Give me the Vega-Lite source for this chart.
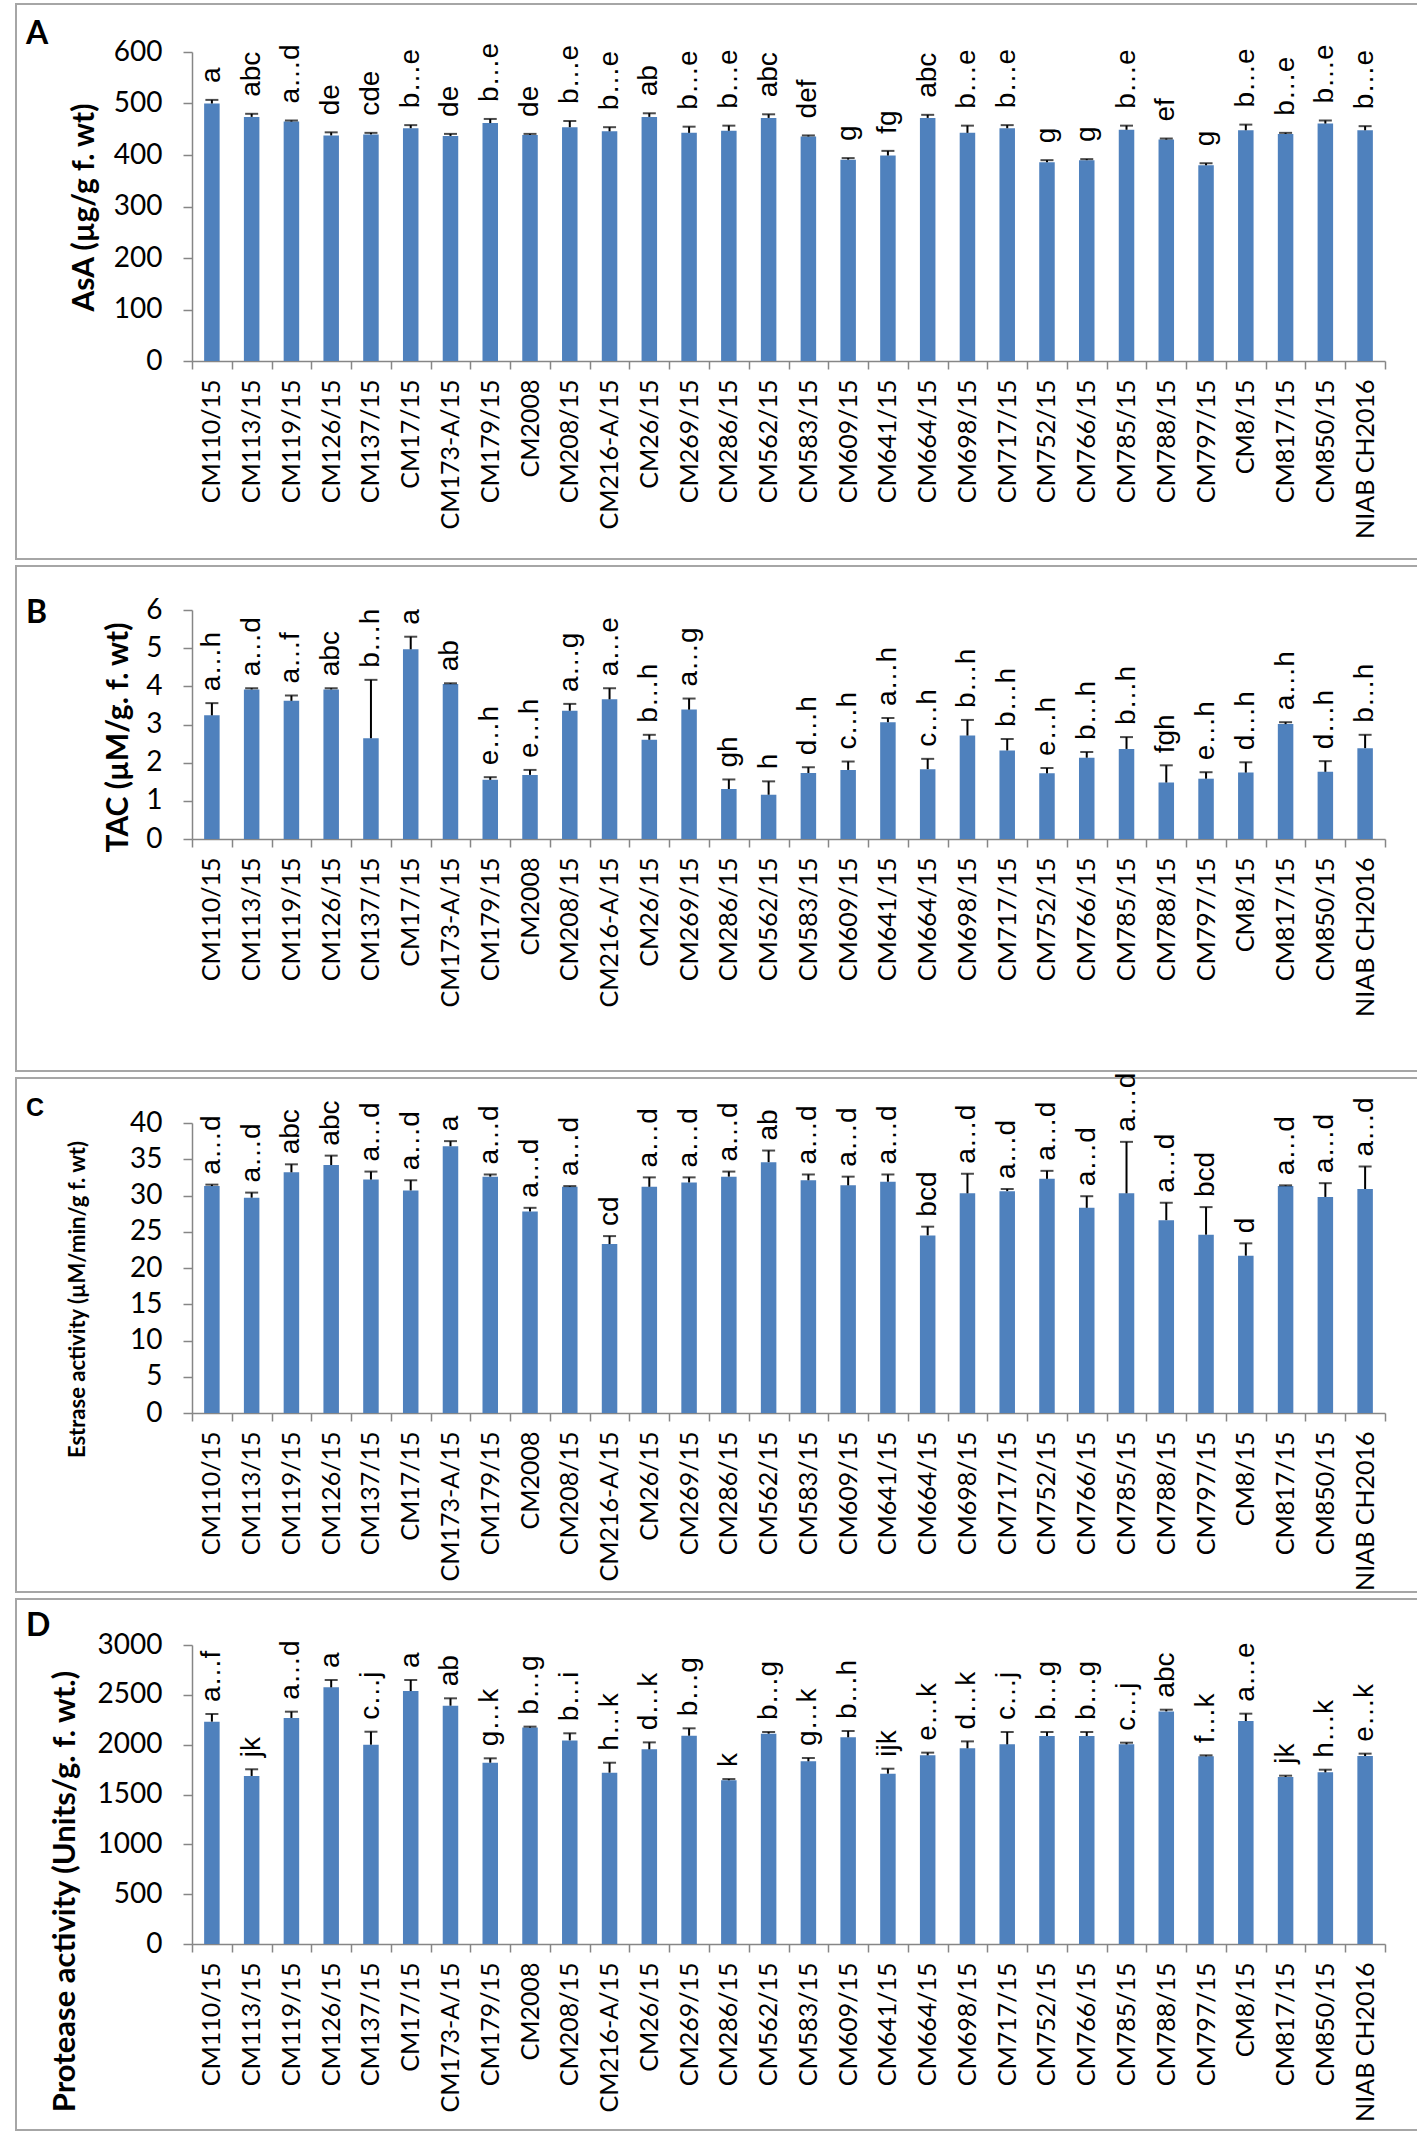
{
  "$schema": "https://vega.github.io/schema/vega-lite/v6.json",
  "background": "white",
  "padding": {"left": 3, "top": 3, "right": 3, "bottom": 3},
  "spacing": 7,
  "bounds": "flush",
  "config": {
    "view": {"stroke": "#a6a6a6", "strokeWidth": 2},
    "font": "Lato",
    "axis": {"grid": false, "labelColor": "black", "titleColor": "black", "tickColor": "#868686", "tickWidth": 1.5, "domainColor": "#868686", "domainWidth": 1.5},
    "title": {"font": "Lato", "fontWeight": "bold", "fontSize": 32, "color": "black", "anchor": "start", "frame": "group"}
  },
  "datasets": {
    "A": [
      {"cat": "CM110/15", "value": 500, "upper": 507, "label": "a"},
      {"cat": "CM113/15", "value": 474, "upper": 480, "label": "abc"},
      {"cat": "CM119/15", "value": 465, "upper": 467, "label": "a…d"},
      {"cat": "CM126/15", "value": 438, "upper": 444, "label": "de"},
      {"cat": "CM137/15", "value": 440, "upper": 443, "label": "cde"},
      {"cat": "CM17/15", "value": 452, "upper": 458, "label": "b…e"},
      {"cat": "CM173-A/15", "value": 437, "upper": 441, "label": "de"},
      {"cat": "CM179/15", "value": 462, "upper": 470, "label": "b…e"},
      {"cat": "CM2008", "value": 439, "upper": 441, "label": "de"},
      {"cat": "CM208/15", "value": 454, "upper": 466, "label": "b…e"},
      {"cat": "CM216-A/15", "value": 446, "upper": 454, "label": "b…e"},
      {"cat": "CM26/15", "value": 474, "upper": 481, "label": "ab"},
      {"cat": "CM269/15", "value": 443, "upper": 455, "label": "b…e"},
      {"cat": "CM286/15", "value": 447, "upper": 457, "label": "b…e"},
      {"cat": "CM562/15", "value": 472, "upper": 479, "label": "abc"},
      {"cat": "CM583/15", "value": 436, "upper": 438, "label": "def"},
      {"cat": "CM609/15", "value": 391, "upper": 394, "label": "g"},
      {"cat": "CM641/15", "value": 399, "upper": 408, "label": "fg"},
      {"cat": "CM664/15", "value": 472, "upper": 478, "label": "abc"},
      {"cat": "CM698/15", "value": 443, "upper": 457, "label": "b…e"},
      {"cat": "CM717/15", "value": 452, "upper": 458, "label": "b…e"},
      {"cat": "CM752/15", "value": 386, "upper": 390, "label": "g"},
      {"cat": "CM766/15", "value": 390, "upper": 392, "label": "g"},
      {"cat": "CM785/15", "value": 449, "upper": 457, "label": "b…e"},
      {"cat": "CM788/15", "value": 430, "upper": 432, "label": "ef"},
      {"cat": "CM797/15", "value": 380, "upper": 384, "label": "g"},
      {"cat": "CM8/15", "value": 448, "upper": 459, "label": "b…e"},
      {"cat": "CM817/15", "value": 441, "upper": 443, "label": "b…e"},
      {"cat": "CM850/15", "value": 461, "upper": 467, "label": "b…e"},
      {"cat": "NIAB CH2016", "value": 448, "upper": 456, "label": "b…e"}
    ],
    "B": [
      {"cat": "CM110/15", "value": 3.24, "upper": 3.56, "label": "a…h"},
      {"cat": "CM113/15", "value": 3.92, "upper": 3.95, "label": "a…d"},
      {"cat": "CM119/15", "value": 3.62, "upper": 3.76, "label": "a…f"},
      {"cat": "CM126/15", "value": 3.92, "upper": 3.95, "label": "abc"},
      {"cat": "CM137/15", "value": 2.64, "upper": 4.17, "label": "b…h"},
      {"cat": "CM17/15", "value": 4.97, "upper": 5.3, "label": "a"},
      {"cat": "CM173-A/15", "value": 4.06, "upper": 4.08, "label": "ab"},
      {"cat": "CM179/15", "value": 1.55, "upper": 1.62, "label": "e…h"},
      {"cat": "CM2008", "value": 1.68, "upper": 1.81, "label": "e…h"},
      {"cat": "CM208/15", "value": 3.36, "upper": 3.54, "label": "a…g"},
      {"cat": "CM216-A/15", "value": 3.66, "upper": 3.95, "label": "a…e"},
      {"cat": "CM26/15", "value": 2.6, "upper": 2.73, "label": "b…h"},
      {"cat": "CM269/15", "value": 3.39, "upper": 3.68, "label": "a…g"},
      {"cat": "CM286/15", "value": 1.31, "upper": 1.56, "label": "gh"},
      {"cat": "CM562/15", "value": 1.16, "upper": 1.51, "label": "h"},
      {"cat": "CM583/15", "value": 1.73, "upper": 1.88, "label": "d…h"},
      {"cat": "CM609/15", "value": 1.81, "upper": 2.03, "label": "c…h"},
      {"cat": "CM641/15", "value": 3.06, "upper": 3.17, "label": "a…h"},
      {"cat": "CM664/15", "value": 1.83, "upper": 2.1, "label": "c…h"},
      {"cat": "CM698/15", "value": 2.71, "upper": 3.12, "label": "b…h"},
      {"cat": "CM717/15", "value": 2.32, "upper": 2.62, "label": "b…h"},
      {"cat": "CM752/15", "value": 1.72, "upper": 1.86, "label": "e…h"},
      {"cat": "CM766/15", "value": 2.13, "upper": 2.28, "label": "b…h"},
      {"cat": "CM785/15", "value": 2.36, "upper": 2.67, "label": "b…h"},
      {"cat": "CM788/15", "value": 1.48, "upper": 1.93, "label": "fgh"},
      {"cat": "CM797/15", "value": 1.58, "upper": 1.75, "label": "e…h"},
      {"cat": "CM8/15", "value": 1.74, "upper": 2.01, "label": "d…h"},
      {"cat": "CM817/15", "value": 3.01, "upper": 3.06, "label": "a…h"},
      {"cat": "CM850/15", "value": 1.76, "upper": 2.04, "label": "d…h"},
      {"cat": "NIAB CH2016", "value": 2.38, "upper": 2.73, "label": "b…h"}
    ],
    "C": [
      {"cat": "CM110/15", "value": 31.3, "upper": 31.5, "label": "a…d"},
      {"cat": "CM113/15", "value": 29.7, "upper": 30.4, "label": "a…d"},
      {"cat": "CM119/15", "value": 33.2, "upper": 34.3, "label": "abc"},
      {"cat": "CM126/15", "value": 34.2, "upper": 35.5, "label": "abc"},
      {"cat": "CM137/15", "value": 32.2, "upper": 33.3, "label": "a…d"},
      {"cat": "CM17/15", "value": 30.7, "upper": 32.1, "label": "a…d"},
      {"cat": "CM173-A/15", "value": 36.8, "upper": 37.5, "label": "a"},
      {"cat": "CM179/15", "value": 32.6, "upper": 32.9, "label": "a…d"},
      {"cat": "CM2008", "value": 27.8, "upper": 28.3, "label": "a…d"},
      {"cat": "CM208/15", "value": 31.2, "upper": 31.3, "label": "a…d"},
      {"cat": "CM216-A/15", "value": 23.3, "upper": 24.4, "label": "cd"},
      {"cat": "CM26/15", "value": 31.2, "upper": 32.5, "label": "a…d"},
      {"cat": "CM269/15", "value": 31.8, "upper": 32.5, "label": "a…d"},
      {"cat": "CM286/15", "value": 32.6, "upper": 33.3, "label": "a…d"},
      {"cat": "CM562/15", "value": 34.6, "upper": 36.2, "label": "ab"},
      {"cat": "CM583/15", "value": 32.1, "upper": 32.9, "label": "a…d"},
      {"cat": "CM609/15", "value": 31.4, "upper": 32.6, "label": "a…d"},
      {"cat": "CM641/15", "value": 31.9, "upper": 32.9, "label": "a…d"},
      {"cat": "CM664/15", "value": 24.5, "upper": 25.7, "label": "bcd"},
      {"cat": "CM698/15", "value": 30.3, "upper": 33.0, "label": "a…d"},
      {"cat": "CM717/15", "value": 30.6, "upper": 30.9, "label": "a…d"},
      {"cat": "CM752/15", "value": 32.3, "upper": 33.4, "label": "a…d"},
      {"cat": "CM766/15", "value": 28.3, "upper": 29.9, "label": "a…d"},
      {"cat": "CM785/15", "value": 30.3, "upper": 37.4, "label": "a…d"},
      {"cat": "CM788/15", "value": 26.6, "upper": 29.0, "label": "a…d"},
      {"cat": "CM797/15", "value": 24.6, "upper": 28.4, "label": "bcd"},
      {"cat": "CM8/15", "value": 21.7, "upper": 23.4, "label": "d"},
      {"cat": "CM817/15", "value": 31.3, "upper": 31.4, "label": "a…d"},
      {"cat": "CM850/15", "value": 29.8, "upper": 31.7, "label": "a…d"},
      {"cat": "NIAB CH2016", "value": 30.9, "upper": 34.0, "label": "a…d"}
    ],
    "D": [
      {"cat": "CM110/15", "value": 2231, "upper": 2308, "label": "a…f"},
      {"cat": "CM113/15", "value": 1686, "upper": 1753, "label": "jk"},
      {"cat": "CM119/15", "value": 2268, "upper": 2331, "label": "a…d"},
      {"cat": "CM126/15", "value": 2575, "upper": 2649, "label": "a"},
      {"cat": "CM137/15", "value": 2000, "upper": 2130, "label": "c…j"},
      {"cat": "CM17/15", "value": 2538, "upper": 2649, "label": "a"},
      {"cat": "CM173-A/15", "value": 2391, "upper": 2465, "label": "ab"},
      {"cat": "CM179/15", "value": 1819, "upper": 1863, "label": "g…k"},
      {"cat": "CM2008", "value": 2171, "upper": 2181, "label": "b…g"},
      {"cat": "CM208/15", "value": 2043, "upper": 2114, "label": "b…i"},
      {"cat": "CM216-A/15", "value": 1719, "upper": 1819, "label": "h…k"},
      {"cat": "CM26/15", "value": 1953, "upper": 2023, "label": "d…k"},
      {"cat": "CM269/15", "value": 2090, "upper": 2164, "label": "b…g"},
      {"cat": "CM286/15", "value": 1643, "upper": 1655, "label": "k"},
      {"cat": "CM562/15", "value": 2110, "upper": 2127, "label": "b…g"},
      {"cat": "CM583/15", "value": 1833, "upper": 1866, "label": "g…k"},
      {"cat": "CM609/15", "value": 2074, "upper": 2137, "label": "b…h"},
      {"cat": "CM641/15", "value": 1709, "upper": 1759, "label": "ijk"},
      {"cat": "CM664/15", "value": 1893, "upper": 1920, "label": "e…k"},
      {"cat": "CM698/15", "value": 1963, "upper": 2033, "label": "d…k"},
      {"cat": "CM717/15", "value": 2003, "upper": 2127, "label": "c…j"},
      {"cat": "CM752/15", "value": 2087, "upper": 2127, "label": "b…g"},
      {"cat": "CM766/15", "value": 2087, "upper": 2127, "label": "b…g"},
      {"cat": "CM785/15", "value": 2003, "upper": 2020, "label": "c…j"},
      {"cat": "CM788/15", "value": 2334, "upper": 2351, "label": "abc"},
      {"cat": "CM797/15", "value": 1883, "upper": 1893, "label": "f…k"},
      {"cat": "CM8/15", "value": 2237, "upper": 2311, "label": "a…e"},
      {"cat": "CM817/15", "value": 1676, "upper": 1689, "label": "jk"},
      {"cat": "CM850/15", "value": 1722, "upper": 1749, "label": "h…k"},
      {"cat": "NIAB CH2016", "value": 1886, "upper": 1910, "label": "e…k"}
    ]
  },
  "vconcat": [
    {
      "width": 1406, "height": 555,
      "data": {"name": "A"},
      "title": {"text": "A", "offset": -47, "dx": 10},
      "encoding": {
        "x": {"field": "cat", "type": "nominal", "sort": null,
          "scale": {"paddingInner": 0, "paddingOuter": 0, "range": [176, 1369]},
          "axis": {"title": null, "orient": "bottom", "offset": -198, "tickBand": "extent", "tickSize": 8, "labelAngle": -90, "labelAlign": "right", "labelBaseline": "middle", "labelPadding": 10, "labelFont": "Lato", "labelFontSize": 25, "labelOverlap": false, "labelLimit": 400}}
      },
      "layer": [
        {"mark": {"type": "bar", "color": "#4f81bd", "width": {"band": 0.39}},
         "encoding": {
           "y": {"field": "value", "type": "quantitative",
             "scale": {"domain": [0, 600], "range": [357, 48], "nice": false, "zero": false},
             "axis": {"orient": "left", "offset": -176, "values": [0, 100, 200, 300, 400, 500, 600], "format": "d", "tickSize": 9, "labelFont": "Lato", "labelFontSize": 28, "labelPadding": 21, "title": "AsA (µg/g f. wt)", "titleFont": "Lato", "titleFontSize": 30, "titleFontWeight": "bold", "titlePadding": 14, "titleY": 203}},
           "y2": {"datum": 0}}},
        {"mark": {"type": "rule", "color": "black", "strokeWidth": 2},
         "encoding": {"y": {"field": "value", "type": "quantitative"}, "y2": {"field": "upper"}}},
        {"mark": {"type": "tick", "color": "black", "thickness": 2, "size": 13},
         "encoding": {"y": {"field": "upper", "type": "quantitative"}}},
        {"mark": {"type": "text", "angle": -90, "align": "left", "baseline": "middle", "dx": 17, "font": "Liberation Sans", "fontSize": 28, "color": "black"},
         "encoding": {"y": {"field": "upper", "type": "quantitative"}, "text": {"field": "label"}}}
      ]
    },
    {
      "width": 1406, "height": 505,
      "data": {"name": "B"},
      "title": {"text": "B", "offset": -64, "dx": 10},
      "encoding": {
        "x": {"field": "cat", "type": "nominal", "sort": null,
          "scale": {"paddingInner": 0, "paddingOuter": 0, "range": [176, 1369]},
          "axis": {"title": null, "orient": "bottom", "offset": -232, "tickBand": "extent", "tickSize": 8, "labelAngle": -90, "labelAlign": "right", "labelBaseline": "middle", "labelPadding": 10, "labelFont": "Lato", "labelFontSize": 25, "labelOverlap": false, "labelLimit": 400}}
      },
      "layer": [
        {"mark": {"type": "bar", "color": "#4f81bd", "width": {"band": 0.39}},
         "encoding": {
           "y": {"field": "value", "type": "quantitative",
             "scale": {"domain": [0, 6], "range": [273, 44], "nice": false, "zero": false},
             "axis": {"orient": "left", "offset": -176, "values": [0, 1, 2, 3, 4, 5, 6], "format": "d", "tickSize": 9, "labelFont": "Lato", "labelFontSize": 28, "labelPadding": 21, "title": "TAC (µM/g. f. wt)", "titleFont": "Lato", "titleFontSize": 30, "titleFontWeight": "bold", "titlePadding": 12, "titleY": 171}},
           "y2": {"datum": 0}}},
        {"mark": {"type": "rule", "color": "black", "strokeWidth": 2},
         "encoding": {"y": {"field": "value", "type": "quantitative"}, "y2": {"field": "upper"}}},
        {"mark": {"type": "tick", "color": "black", "thickness": 2, "size": 13},
         "encoding": {"y": {"field": "upper", "type": "quantitative"}}},
        {"mark": {"type": "text", "angle": -90, "align": "left", "baseline": "middle", "dx": 12, "font": "Liberation Sans", "fontSize": 28, "color": "black"},
         "encoding": {"y": {"field": "upper", "type": "quantitative"}, "text": {"field": "label"}}}
      ]
    },
    {
      "width": 1406, "height": 514,
      "data": {"name": "C"},
      "title": {"text": "C", "offset": -48, "dx": 10, "font": "Liberation Sans", "fontSize": 25},
      "encoding": {
        "x": {"field": "cat", "type": "nominal", "sort": null,
          "scale": {"paddingInner": 0, "paddingOuter": 0, "range": [176, 1369]},
          "axis": {"title": null, "orient": "bottom", "offset": -179, "tickBand": "extent", "tickSize": 8, "labelAngle": -90, "labelAlign": "right", "labelBaseline": "middle", "labelPadding": 10, "labelFont": "Lato", "labelFontSize": 25, "labelOverlap": false, "labelLimit": 400}}
      },
      "layer": [
        {"mark": {"type": "bar", "color": "#4f81bd", "width": {"band": 0.39}},
         "encoding": {
           "y": {"field": "value", "type": "quantitative",
             "scale": {"domain": [0, 40], "range": [335, 45], "nice": false, "zero": false},
             "axis": {"orient": "left", "offset": -176, "values": [0, 5, 10, 15, 20, 25, 30, 35, 40], "format": "d", "tickSize": 9, "labelFont": "Lato", "labelFontSize": 28, "labelPadding": 21, "title": "Estrase activity (µM/min/g f. wt)", "titleFont": "Lato", "titleFontSize": 22, "titleFontWeight": "bold", "titlePadding": 40, "titleY": 221}},
           "y2": {"datum": 0}}},
        {"mark": {"type": "rule", "color": "black", "strokeWidth": 2},
         "encoding": {"y": {"field": "value", "type": "quantitative"}, "y2": {"field": "upper"}}},
        {"mark": {"type": "tick", "color": "black", "thickness": 2, "size": 13},
         "encoding": {"y": {"field": "upper", "type": "quantitative"}}},
        {"mark": {"type": "text", "angle": -90, "align": "left", "baseline": "middle", "dx": 10, "font": "Liberation Sans", "fontSize": 28, "color": "black"},
         "encoding": {"y": {"field": "upper", "type": "quantitative"}, "text": {"field": "label"}}}
      ]
    },
    {
      "width": 1406, "height": 531,
      "data": {"name": "D"},
      "title": {"text": "D", "offset": -44, "dx": 10},
      "encoding": {
        "x": {"field": "cat", "type": "nominal", "sort": null,
          "scale": {"paddingInner": 0, "paddingOuter": 0, "range": [176, 1369]},
          "axis": {"title": null, "orient": "bottom", "offset": -186, "tickBand": "extent", "tickSize": 8, "labelAngle": -90, "labelAlign": "right", "labelBaseline": "middle", "labelPadding": 10, "labelFont": "Lato", "labelFontSize": 25, "labelOverlap": false, "labelLimit": 400}}
      },
      "layer": [
        {"mark": {"type": "bar", "color": "#4f81bd", "width": {"band": 0.39}},
         "encoding": {
           "y": {"field": "value", "type": "quantitative",
             "scale": {"domain": [0, 3000], "range": [345, 46], "nice": false, "zero": false},
             "axis": {"orient": "left", "offset": -176, "values": [0, 500, 1000, 1500, 2000, 2500, 3000], "format": "d", "tickSize": 9, "labelFont": "Lato", "labelFontSize": 28, "labelPadding": 21, "title": "Protease activity (Units/g. f. wt.)", "titleFont": "Lato", "titleFontSize": 31, "titleFontWeight": "bold", "titlePadding": 16, "titleY": 292}},
           "y2": {"datum": 0}}},
        {"mark": {"type": "rule", "color": "black", "strokeWidth": 2},
         "encoding": {"y": {"field": "value", "type": "quantitative"}, "y2": {"field": "upper"}}},
        {"mark": {"type": "tick", "color": "black", "thickness": 2, "size": 13},
         "encoding": {"y": {"field": "upper", "type": "quantitative"}}},
        {"mark": {"type": "text", "angle": -90, "align": "left", "baseline": "middle", "dx": 12, "font": "Liberation Sans", "fontSize": 28, "color": "black"},
         "encoding": {"y": {"field": "upper", "type": "quantitative"}, "text": {"field": "label"}}}
      ]
    }
  ]
}
